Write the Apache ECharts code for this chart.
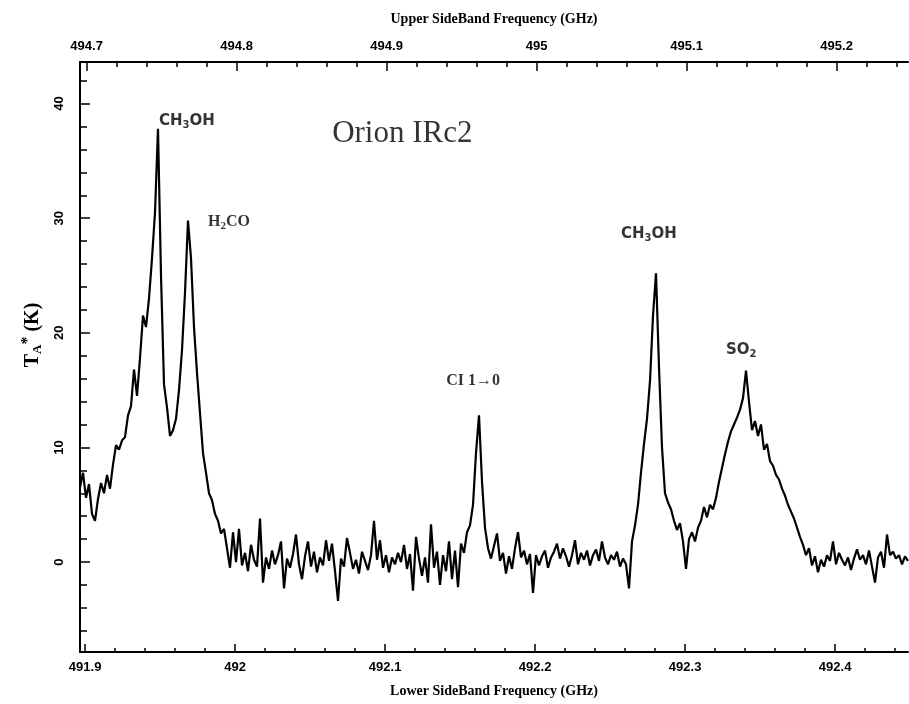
<!DOCTYPE html>
<html><head><meta charset="utf-8">
<script src="https://cdn.jsdelivr.net/npm/echarts@6/dist/echarts.min.js"></script>
<style>html,body{margin:0;padding:0;background:#fff}#c{width:909px;height:704px}</style>
</head><body><div id="c"></div>
<script>
// ---- data ----
const lsbStart = 491.8966;     // GHz, first channel (lower sideband)
const channelWidth = 0.002;    // GHz per channel
const usbOffset = 2.7990;      // USB = LSB + offset (top axis)
const lsbMin = 491.8966, lsbMax = 492.4486;
const tempMin = -7.85, tempMax = 43.63;

// T_A* (K) per channel
const taStar = [
  6.5, 7.8, 5.6, 6.8, 4.2, 3.6, 5.5, 6.9, 6.0, 7.6,
  6.4, 8.5, 10.2, 9.8, 10.6, 10.9, 12.8, 13.6, 16.8, 14.5,
  17.8, 21.5, 20.5, 23.0, 26.5, 30.5, 37.8, 25.0, 15.5, 13.5,
  11.0, 11.5, 12.5, 15.0, 18.5, 23.5, 29.8, 26.5, 20.5, 16.5,
  13.0, 9.5, 7.8, 6.0, 5.4, 4.2, 3.6, 2.5, 2.9, 1.2,
  -0.5, 2.6, 0.0, 2.9, -0.3, 0.8, -0.8, 1.5, 0.2, -0.4,
  3.8, -1.8, 0.4, -0.6, 1.0, -0.2, 0.6, 1.8, -2.3, 0.3,
  -0.5, 0.7, 2.4, -0.2, -1.5, 0.5, 1.8, -0.4, 0.9, -0.9,
  0.4, -0.3, 1.9, 0.1, 1.6, -0.8, -3.4, 0.3, -0.4, 2.1,
  0.8, -0.6, 0.2, -1.0, 0.9, 0.1, -0.7, 0.6, 3.6, 0.2,
  1.9, -0.5, 0.6, -0.9, 0.4, -0.2, 0.8, 0.0, 1.5, -0.6,
  0.7, -2.5, 2.2, 0.3, -1.2, 0.4, -1.8, 3.3, -0.5, 0.9,
  -2.0, 0.6, -0.8, 1.8, -1.5, 1.0, -2.2, 1.6, 0.8, 2.6,
  3.2, 5.0, 9.5, 12.8, 7.0, 3.0, 1.2, 0.3, 1.4, 2.5,
  0.1, 0.8, -1.0, 0.5, -0.6, 1.2, 2.6, 0.4, 1.0, -0.2,
  0.7, -2.7, 0.6, -0.3, 0.5, 1.0, -0.5, 0.4, 0.9, 1.6,
  0.3, 1.2, 0.5, -0.4, 0.6, 1.9, -0.2, 0.8, 0.2, 1.0,
  -0.3, 0.6, 1.1, 0.1, 1.8, 0.4, -0.2, 0.6, 0.2, 0.9,
  -0.4, 0.3, -0.2, -2.3, 1.8, 3.2, 5.0, 7.8, 10.3, 12.5,
  15.8, 21.5, 25.2, 17.0, 10.0, 6.0, 5.2, 4.6, 3.6, 2.8,
  3.4, 1.8, -0.6, 2.0, 2.6, 1.8, 3.0, 3.6, 4.8, 3.9,
  5.0, 4.6, 5.6, 7.0, 8.2, 9.4, 10.5, 11.4, 12.0, 12.6,
  13.3, 14.3, 16.7, 14.0, 11.5, 12.3, 11.0, 12.0, 9.8, 10.3,
  8.8, 8.4, 7.6, 7.2, 6.4, 5.8, 5.0, 4.4, 3.8, 3.0,
  2.2, 1.5, 0.6, 1.2, -0.3, 0.5, -0.9, 0.2, -0.4, 0.6,
  0.1, 1.8, -0.2, 0.8, 0.2, -0.3, 0.4, -0.7, 0.3, 1.1,
  0.2, 0.6, -0.2, 1.0, -0.4, -1.8, 0.4, 0.9, -0.5, 2.4,
  0.6, 0.9, 0.3, 0.6, -0.2, 0.5, 0.1
];

// tick labels
const lsbTicks = [491.9, 492, 492.1, 492.2, 492.3, 492.4];
const lsbMinorTicks = [491.92,491.94,491.96,491.98,492.02,492.04,492.06,492.08,492.12,492.14,492.16,492.18,492.22,492.24,492.26,492.28,492.32,492.34,492.36,492.38,492.42,492.44];
const usbTicks = [494.7, 494.8, 494.9, 495, 495.1, 495.2];
const usbMinorTicks = [494.72,494.74,494.76,494.78,494.82,494.84,494.86,494.88,494.92,494.94,494.96,494.98,495.02,495.04,495.06,495.08,495.12,495.14,495.16,495.18,495.22,495.24];
const tempTicks = [0, 10, 20, 30, 40];
const tempMinorTicks = [-6,-4,-2,2,4,6,8,12,14,16,18,22,24,26,28,32,34,36,38,42];

// line identifications (text anchor in data coords)
const lineLabels = ['{s|CH}{sb|3}{s|OH}', '{r|H}{rb|2}{r|CO}', '{r|CI 1\u21920}', '{s|CH}{sb|3}{s|OH}', '{s|SO}{sb|2}', '{o|Orion IRc2}'];
const lineFreqs  = [491.9493, 491.9820, 492.1407, 492.2573, 492.3273, 492.0647];
const lineTemps  = [38.5, 29.7, 15.8, 28.6, 18.5, 37.4];

// ---- chart ----
const chart = echarts.init(document.getElementById('c'), null, {renderer: 'canvas'});
const black = '#000';
const sans = 'Liberation Sans';
const serif = 'Liberation Serif';
const gridRect = {left: 80, right: 1, top: 62, bottom: 52};

const spectrum = taStar.map((t, i) => [lsbStart + channelWidth * i, t]);

const richStyles = {
  s:  {fontFamily: 'DejaVu Sans', fontWeight: 'bold', fontSize: 15, color: black},
  sb: {fontFamily: 'DejaVu Sans', fontWeight: 'bold', fontSize: 10, color: black, padding: [9, 0, 0, 0]},
  r:  {fontFamily: serif, fontWeight: 'bold', fontSize: 16, color: black},
  rb: {fontFamily: serif, fontWeight: 'bold', fontSize: 11, color: black, padding: [9, 0, 0, 0]},
  o:  {fontFamily: serif, fontSize: 31, color: black}
};

const axisLbl = {fontFamily: sans, fontWeight: 'bold', fontSize: 13, color: black};

chart.setOption({
  animation: false,
  backgroundColor: '#fff',
  grid: [Object.assign({}, gridRect), Object.assign({}, gridRect)],
  xAxis: [
    {
      gridIndex: 0, type: 'value', position: 'bottom', min: lsbMin, max: lsbMax,
      name: 'Lower SideBand Frequency (GHz)', nameLocation: 'middle', nameGap: 32,
      nameTextStyle: {fontFamily: serif, fontWeight: 'bold', fontSize: 14, color: black},
      axisLine: {onZero: false, lineStyle: {color: black, width: 2}},
      axisTick: {inside: true, length: 8, customValues: lsbTicks, lineStyle: {color: black, width: 1.5}},
      axisLabel: Object.assign({customValues: lsbTicks, margin: 9}, axisLbl),
      splitLine: {show: false}
    },
    {
      gridIndex: 0, type: 'value', position: 'top', min: lsbMin + usbOffset, max: lsbMax + usbOffset,
      name: 'Upper SideBand Frequency (GHz)', nameLocation: 'middle', nameGap: 36,
      nameTextStyle: {fontFamily: serif, fontWeight: 'bold', fontSize: 14, color: black},
      axisLine: {onZero: false, lineStyle: {color: black, width: 2}},
      axisTick: {inside: true, length: 9, customValues: usbTicks, lineStyle: {color: black, width: 1.5}},
      axisLabel: Object.assign({customValues: usbTicks, margin: 9}, axisLbl),
      splitLine: {show: false}
    },
    {
      gridIndex: 1, type: 'value', position: 'bottom', min: lsbMin, max: lsbMax,
      axisLine: {show: false, onZero: false},
      axisTick: {inside: true, length: 4, customValues: lsbMinorTicks, lineStyle: {color: black, width: 1.5}},
      axisLabel: {show: false}, splitLine: {show: false}
    },
    {
      gridIndex: 1, type: 'value', position: 'top', min: lsbMin + usbOffset, max: lsbMax + usbOffset,
      axisLine: {show: false, onZero: false},
      axisTick: {inside: true, length: 5, customValues: usbMinorTicks, lineStyle: {color: black, width: 1.5}},
      axisLabel: {show: false}, splitLine: {show: false}
    }
  ],
  yAxis: [
    {
      gridIndex: 0, type: 'value', position: 'left', min: tempMin, max: tempMax,
      name: '{t|T}{a|A}{st|*}{t| (K)}', nameLocation: 'middle', nameGap: 34, nameRotate: 90,
      nameTextStyle: {
        fontFamily: serif, fontWeight: 'bold', fontSize: 20, color: black,
        padding: [0, 0, 0, 44],
        rich: {
          t: {fontFamily: serif, fontWeight: 'bold', fontSize: 20, color: black},
          a: {fontFamily: serif, fontWeight: 'bold', fontSize: 13, color: black, padding: [10, 0, 0, 0]},
          st: {fontFamily: serif, fontWeight: 'bold', fontSize: 16, color: black, padding: [0, 0, 10, 0]}
        }
      },
      axisLine: {onZero: false, lineStyle: {color: black, width: 2}},
      axisTick: {inside: true, length: 10, customValues: tempTicks, lineStyle: {color: black, width: 1.5}},
      axisLabel: Object.assign({customValues: tempTicks, rotate: 90, margin: 14}, axisLbl),
      splitLine: {show: false}
    },
    {
      gridIndex: 1, type: 'value', position: 'left', min: tempMin, max: tempMax,
      axisLine: {show: false, onZero: false},
      axisTick: {inside: true, length: 7, customValues: tempMinorTicks, lineStyle: {color: black, width: 1.5}},
      axisLabel: {show: false}, splitLine: {show: false}
    }
  ],
  series: [
    {
      type: 'line', xAxisIndex: 0, yAxisIndex: 0, data: spectrum,
      showSymbol: false, symbol: 'none', silent: true,
      lineStyle: {color: black, width: 2.2}
    },
    {
      type: 'scatter', xAxisIndex: 0, yAxisIndex: 0, symbolSize: 0, silent: true,
      data: lineLabels.map((txt, k) => ({
        value: [lineFreqs[k], lineTemps[k]],
        label: {
          show: true, position: [0, 0], align: 'left', verticalAlign: 'middle',
          formatter: txt, rich: richStyles
        }
      }))
    }
  ]
});
</script></body></html>
